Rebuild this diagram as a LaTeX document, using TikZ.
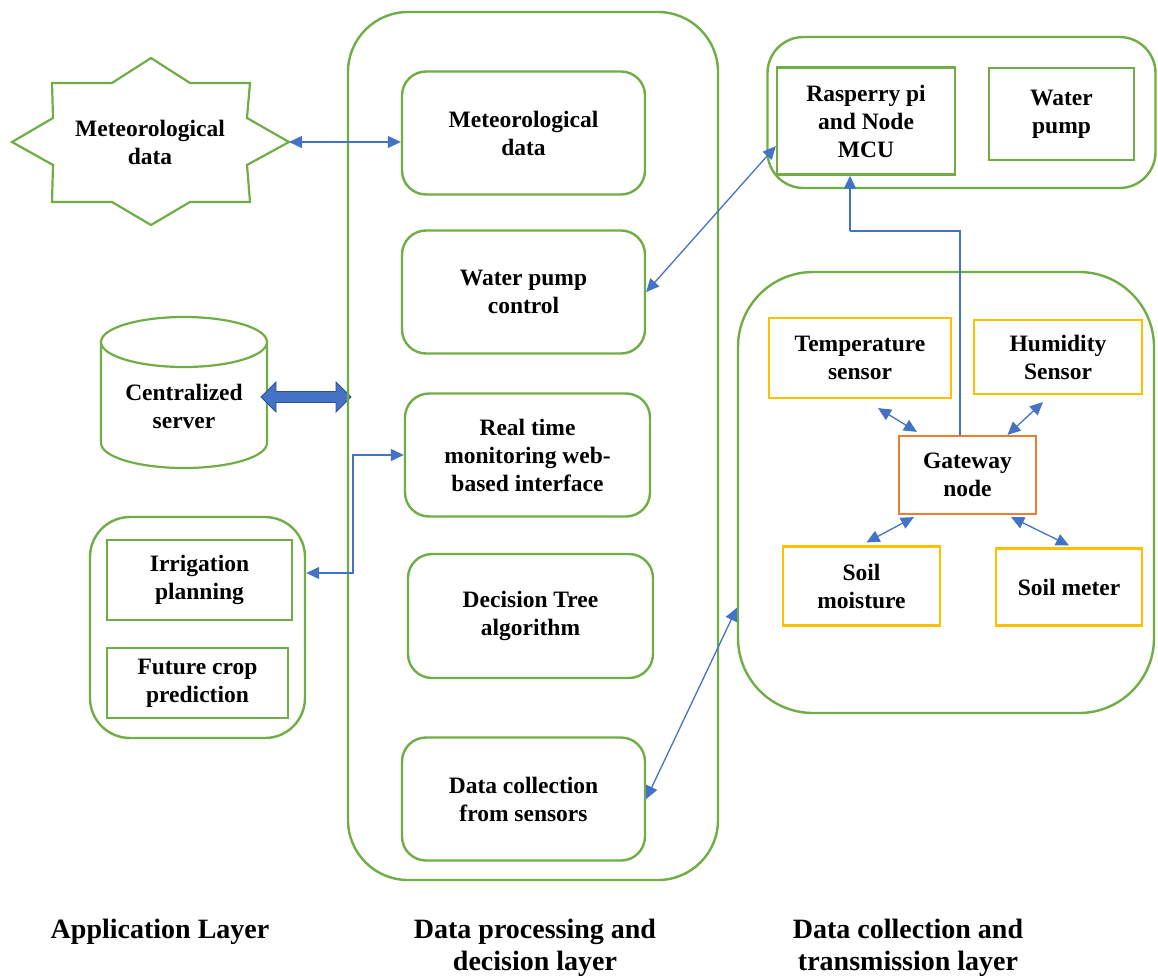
\documentclass[tikz,border=0pt]{standalone}
\usepackage{fontspec}
\setmainfont{Liberation Serif}
\usetikzlibrary{arrows.meta,calc}
\definecolor{lgreen}{HTML}{70AD47}
\definecolor{lblue}{HTML}{4472C4}
\definecolor{dblue}{HTML}{2F528F}
\definecolor{lorange}{HTML}{ED7D31}
\definecolor{lgold}{HTML}{FFC000}
\tikzset{
  x=1pt, y=-1pt,
  txt/.style={font=\bfseries\fontsize{23.5}{28}\selectfont, align=center, text=black},
  layertxt/.style={font=\bfseries\fontsize{28}{32}\selectfont, align=center, text=black},
  group/.style={draw=lgreen, line width=2.4pt, rectangle, inner sep=0pt},
  midbox/.style={draw=lgreen, line width=2.4pt, rounded corners=24pt, inner sep=0pt, txt},
  plainbox/.style={draw=lgreen, line width=2.4pt, inner sep=0pt, txt},
  sensbox/.style={draw=lgold, line width=2.2pt, inner sep=0pt, txt},
  gwbox/.style={draw=lorange, line width=2.2pt, inner sep=0pt, txt},
  conn/.style={draw=lblue, line width=1.3pt, arrows={Triangle[length=13pt,width=12pt]-Triangle[length=13pt,width=12pt]}},
  conn1/.style={draw=lblue, line width=1.3pt, arrows={-Triangle[length=13pt,width=12pt]}},
  conn0/.style={draw=lblue, line width=1.3pt},
}
\begin{document}
\begin{tikzpicture}
\useasboundingbox (0,0) rectangle (1158,979);

% ---------- Application layer ----------
% star with meteorological data
\draw[lgreen, line width=2.2pt, line join=miter, fill=white]
  (52,83) -- (112,83) -- (151,58) -- (190,83) -- (250,83) -- (247,118) -- (289,142)
  -- (247,165) -- (250,202) -- (190,202) -- (151,225) -- (112,202) -- (52,202)
  -- (53,165) -- (12,142) -- (53,118) -- cycle;
\coordinate (metR) at (289,142);
\node[txt] (metstar) at (150,142) {Meteorological\\data};

% centralized server (cylinder)
\draw[lgreen, line width=2.2pt]
  (101,342) -- (101,443) arc[start angle=180, end angle=360, x radius=83pt, y radius=25pt] -- (267,342);
\draw[lgreen, line width=2.2pt] (184,342) ellipse [x radius=83pt, y radius=25pt];
\node[txt] (server) at (184,406) {Centralized\\server};

% thick double arrow to the processing layer
\draw[fill=lblue, draw=dblue, line width=0.8pt, line join=miter]
  (261,397) -- (276,382) -- (276,391.5) -- (336,391.5) -- (336,382) -- (351,397)
  -- (336,412) -- (336,402.5) -- (276,402.5) -- (276,412) -- cycle;

% planning group
\node[group, rounded corners=40pt, minimum width=215pt, minimum height=221pt] (appgroup) at (197.5,627.5) {};
\node[plainbox, minimum width=185pt, minimum height=80pt] (irr) at (199.5,580) {Irrigation\\planning};
\node[plainbox, minimum width=181pt, minimum height=70pt] (fcp) at (197.5,683) {Future crop\\prediction};

% ---------- Data processing and decision layer ----------
\node[group, rounded corners=60pt, minimum width=370pt, minimum height=868pt] (midgroup) at (533,446) {};
\node[midbox, minimum width=243pt, minimum height=123pt] (met) at (523.5,133) {Meteorological\\data};
\node[midbox, minimum width=243pt, minimum height=123pt] (wpc) at (523.5,292) {Water pump\\control};
\node[midbox, minimum width=245pt, minimum height=123pt] (rtm) at (527.5,455) {Real time\\monitoring web-\\based interface};
\node[midbox, minimum width=245pt, minimum height=124pt] (dta) at (530.5,616) {Decision Tree\\algorithm};
\node[midbox, minimum width=243pt, minimum height=123pt] (dcs) at (523.5,799) {Data collection\\from sensors};

% ---------- Data collection and transmission layer ----------
\node[group, rounded corners=36pt, minimum width=388pt, minimum height=151pt] (topgroup) at (961.5,112.5) {};
\node[plainbox, minimum width=178pt, minimum height=107pt] (rasp) at (866,121) {Rasperry pi\\and Node\\MCU};
\node[plainbox, minimum width=145pt, minimum height=92pt] (wp) at (1061.5,114) {Water\\pump};

\node[group, rounded corners=75pt, minimum width=416pt, minimum height=441pt] (sensgroup) at (946,492.5) {};
\node[sensbox, minimum width=182pt, minimum height=80pt] (temp) at (860,358) {Temperature\\sensor};
\node[sensbox, minimum width=168pt, minimum height=74pt] (hum) at (1058,357) {Humidity\\Sensor};
\node[gwbox, minimum width=137pt, minimum height=78pt] (gw) at (967.5,475) {Gateway\\node};
\node[sensbox, minimum width=157pt, minimum height=79pt] (soilm) at (861.5,586) {Soil\\moisture};
\node[sensbox, minimum width=146pt, minimum height=77pt] (soilmt) at (1069,587) {Soil meter};

% ---------- connectors ----------
\draw[conn] (metR) -- (met.west |- metR);
\coordinate (bend) at (353,573);
\draw[conn] (appgroup.east |- bend) -- (bend) |- (rtm.west);
\draw[conn] (wpc.east) -- ($(rasp.south west)!0.27!(rasp.north west)$);
\draw[conn] (dcs.east) -- ($(sensgroup.north west)!0.76!(sensgroup.south west)$);

\coordinate (junction) at (960,231);
\coordinate (upturn) at (850,231);
\draw[conn0] (gw.north -| junction) -- (junction) -- (upturn);
\draw[conn1] (upturn) -- (upturn |- rasp.south);

\draw[conn] ($(temp.south)+(18,9)$) -- ($(gw.north west)+(19,-3)$);
\draw[conn] ($(hum.south)+(-15,7)$) -- ($(gw.north)+(40,0)$);
\draw[conn] ($(soilm.north)+(5,-3)$) -- ($(gw.south west)+(16,2)$);
\draw[conn] ($(soilmt.north)+(0,-2)$) -- ($(gw.south east)+(-26,2)$);

% ---------- layer captions ----------
\node[layertxt] (cap1) at (160,932) {Application Layer};
\node[layertxt] (cap2) at (535,948) {Data processing and\\decision layer};
\node[layertxt] (cap3) at (908,948) {Data collection and\\transmission layer};
\end{tikzpicture}
\end{document}
